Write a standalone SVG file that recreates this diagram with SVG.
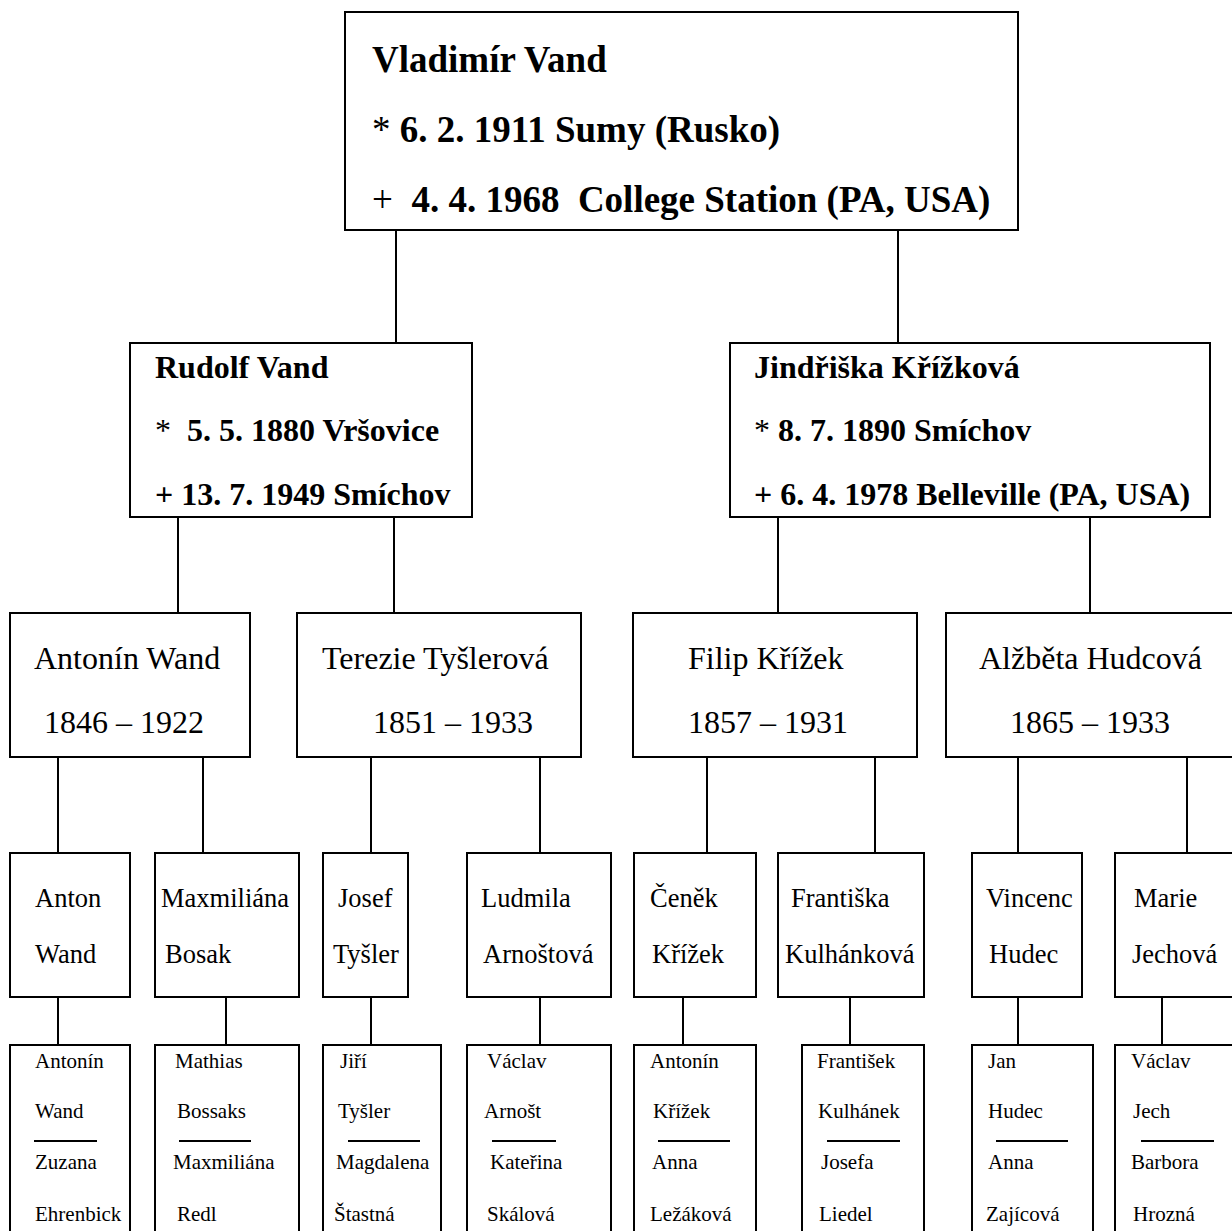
<svg xmlns="http://www.w3.org/2000/svg" width="1232" height="1231" viewBox="0 0 1232 1231">
<style>
  rect { fill: #fff; stroke: #000; stroke-width: 2; }
  line { stroke: #000; stroke-width: 2; }
  text { font-family: "Liberation Serif", "Times New Roman", serif; fill: #000; white-space: pre; }
  .t0 { font-size: 37px; font-weight: bold; }
  .t1 { font-size: 32px; font-weight: bold; }
  .t2 { font-size: 32px; }
  .t3 { font-size: 26.5px; }
  .t4 { font-size: 21px; }
  .n { font-weight: normal; }
</style>
<rect x="0" y="0" width="1232" height="1231" style="stroke:none"/>
<g id="connectors">
  <line x1="396" y1="230" x2="396" y2="343"/>
  <line x1="898" y1="230" x2="898" y2="343"/>
  <line x1="178" y1="517" x2="178" y2="613"/>
  <line x1="394" y1="517" x2="394" y2="613"/>
  <line x1="778" y1="517" x2="778" y2="613"/>
  <line x1="1090" y1="517" x2="1090" y2="613"/>
  <line x1="58" y1="757" x2="58" y2="853"/>
  <line x1="203" y1="757" x2="203" y2="853"/>
  <line x1="371" y1="757" x2="371" y2="853"/>
  <line x1="540" y1="757" x2="540" y2="853"/>
  <line x1="707" y1="757" x2="707" y2="853"/>
  <line x1="875" y1="757" x2="875" y2="853"/>
  <line x1="1018" y1="757" x2="1018" y2="853"/>
  <line x1="1187" y1="757" x2="1187" y2="853"/>
  <line x1="58" y1="997" x2="58" y2="1045"/>
  <line x1="226" y1="997" x2="226" y2="1045"/>
  <line x1="371" y1="997" x2="371" y2="1045"/>
  <line x1="540" y1="997" x2="540" y2="1045"/>
  <line x1="683" y1="997" x2="683" y2="1045"/>
  <line x1="850" y1="997" x2="850" y2="1045"/>
  <line x1="1018" y1="997" x2="1018" y2="1045"/>
  <line x1="1162" y1="997" x2="1162" y2="1045"/>
</g>
<g id="vladimir">
  <rect x="345" y="12" width="673" height="218"/>
  <text class="t0" x="372" y="72">Vladimír Vand</text>
  <text class="t0" x="372" y="142"><tspan class="n">*</tspan> 6. 2. 1911 Sumy (Rusko)</text>
  <text class="t0" x="372" y="212"><tspan class="n">+</tspan>  4. 4. 1968  College Station (PA, USA)</text>
</g>
<g id="rudolf">
  <rect x="130" y="343" width="342" height="174"/>
  <text class="t1" x="155" y="378">Rudolf Vand</text>
  <text class="t1" x="155" y="441"><tspan class="n">*</tspan>  5. 5. 1880 Vršovice</text>
  <text class="t1" x="155" y="505">+ 13. 7. 1949 Smíchov</text>
</g>
<g id="jindriska">
  <rect x="730" y="343" width="480" height="174"/>
  <text class="t1" x="754" y="378">Jindřiška Křížková</text>
  <text class="t1" x="754" y="441"><tspan class="n">*</tspan> 8. 7. 1890 Smíchov</text>
  <text class="t1" x="754" y="505">+ 6. 4. 1978 Belleville (PA, USA)</text>
</g>
<g id="antonin-wand">
  <rect x="10" y="613" width="240" height="144"/>
  <text class="t2" x="34" y="669">Antonín Wand</text>
  <text class="t2" x="44" y="733">1846 – 1922</text>
</g>
<g id="terezie">
  <rect x="297" y="613" width="284" height="144"/>
  <text class="t2" x="322" y="669">Terezie Tyšlerová</text>
  <text class="t2" x="373" y="733">1851 – 1933</text>
</g>
<g id="filip">
  <rect x="633" y="613" width="284" height="144"/>
  <text class="t2" x="688" y="669">Filip Křížek</text>
  <text class="t2" x="688" y="733">1857 – 1931</text>
</g>
<g id="alzbeta">
  <rect x="946" y="613" width="300" height="144"/>
  <text class="t2" x="979" y="669">Alžběta Hudcová</text>
  <text class="t2" x="1010" y="733">1865 – 1933</text>
</g>
<g id="anton">
  <rect x="10" y="853" width="120" height="144"/>
  <text class="t3" x="35" y="907">Anton</text>
  <text class="t3" x="35" y="963">Wand</text>
</g>
<g id="maxmiliana">
  <rect x="155" y="853" width="144" height="144"/>
  <text class="t3" x="161" y="907">Maxmiliána</text>
  <text class="t3" x="165" y="963">Bosak</text>
</g>
<g id="josef">
  <rect x="323" y="853" width="85" height="144"/>
  <text class="t3" x="338" y="907">Josef</text>
  <text class="t3" x="333" y="963">Tyšler</text>
</g>
<g id="ludmila">
  <rect x="467" y="853" width="144" height="144"/>
  <text class="t3" x="481" y="907">Ludmila</text>
  <text class="t3" x="483" y="963">Arnoštová</text>
</g>
<g id="cenek">
  <rect x="634" y="853" width="122" height="144"/>
  <text class="t3" x="650" y="907">Čeněk</text>
  <text class="t3" x="652" y="963">Křížek</text>
</g>
<g id="frantiska">
  <rect x="778" y="853" width="146" height="144"/>
  <text class="t3" x="791" y="907">Františka</text>
  <text class="t3" x="785" y="963">Kulhánková</text>
</g>
<g id="vincenc">
  <rect x="972" y="853" width="110" height="144"/>
  <text class="t3" x="986" y="907">Vincenc</text>
  <text class="t3" x="989" y="963">Hudec</text>
</g>
<g id="marie">
  <rect x="1115" y="853" width="130" height="144"/>
  <text class="t3" x="1134" y="907">Marie</text>
  <text class="t3" x="1132" y="963">Jechová</text>
</g>
<g id="p1">
  <rect x="10" y="1045" width="120" height="200"/>
  <text class="t4" x="35" y="1068">Antonín</text>
  <text class="t4" x="35" y="1118">Wand</text>
  <line x1="34" y1="1141" x2="97" y2="1141"/>
  <text class="t4" x="35" y="1169">Zuzana</text>
  <text class="t4" x="35" y="1221">Ehrenbick</text>
</g>
<g id="p2">
  <rect x="155" y="1045" width="144" height="200"/>
  <text class="t4" x="175" y="1068">Mathias</text>
  <text class="t4" x="177" y="1118">Bossaks</text>
  <line x1="179" y1="1141" x2="251" y2="1141"/>
  <text class="t4" x="173" y="1169">Maxmiliána</text>
  <text class="t4" x="177" y="1221">Redl</text>
</g>
<g id="p3">
  <rect x="323" y="1045" width="118" height="200"/>
  <text class="t4" x="340" y="1068">Jiří</text>
  <text class="t4" x="338" y="1118">Tyšler</text>
  <line x1="348" y1="1141" x2="420" y2="1141"/>
  <text class="t4" x="336" y="1169">Magdalena</text>
  <text class="t4" x="334" y="1221">Štastná</text>
</g>
<g id="p4">
  <rect x="467" y="1045" width="144" height="200"/>
  <text class="t4" x="487" y="1068">Václav</text>
  <text class="t4" x="484" y="1118">Arnošt</text>
  <line x1="492" y1="1141" x2="556" y2="1141"/>
  <text class="t4" x="490" y="1169">Kateřina</text>
  <text class="t4" x="487" y="1221">Skálová</text>
</g>
<g id="p5">
  <rect x="634" y="1045" width="122" height="200"/>
  <text class="t4" x="650" y="1068">Antonín</text>
  <text class="t4" x="653" y="1118">Křížek</text>
  <line x1="658" y1="1141" x2="730" y2="1141"/>
  <text class="t4" x="652" y="1169">Anna</text>
  <text class="t4" x="650" y="1221">Ležáková</text>
</g>
<g id="p6">
  <rect x="802" y="1045" width="122" height="200"/>
  <text class="t4" x="817" y="1068">František</text>
  <text class="t4" x="818" y="1118">Kulhánek</text>
  <line x1="827" y1="1141" x2="900" y2="1141"/>
  <text class="t4" x="821" y="1169">Josefa</text>
  <text class="t4" x="819" y="1221">Liedel</text>
</g>
<g id="p7">
  <rect x="972" y="1045" width="121" height="200"/>
  <text class="t4" x="988" y="1068">Jan</text>
  <text class="t4" x="988" y="1118">Hudec</text>
  <line x1="996" y1="1141" x2="1068" y2="1141"/>
  <text class="t4" x="988" y="1169">Anna</text>
  <text class="t4" x="986" y="1221">Zajícová</text>
</g>
<g id="p8">
  <rect x="1115" y="1045" width="130" height="200"/>
  <text class="t4" x="1131" y="1068">Václav</text>
  <text class="t4" x="1133" y="1118">Jech</text>
  <line x1="1141" y1="1141" x2="1214" y2="1141"/>
  <text class="t4" x="1131" y="1169">Barbora</text>
  <text class="t4" x="1133" y="1221">Hrozná</text>
</g>
</svg>
